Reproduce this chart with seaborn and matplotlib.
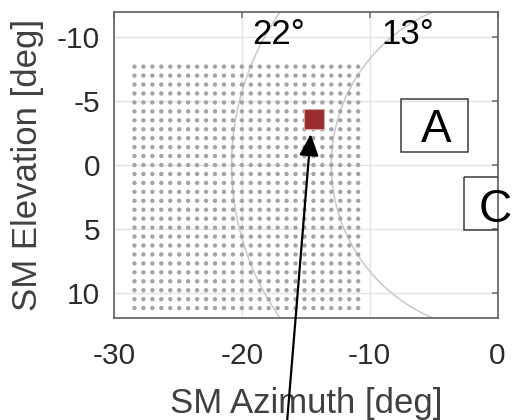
import matplotlib
matplotlib.use("Agg")
import matplotlib.pyplot as plt
from matplotlib.patches import Circle, Rectangle
import numpy as np
import pandas as pd
import seaborn as sns

# scan grid (deg)
grid_az = [-28.4, -27.7, -27.0, -26.3, -25.6, -24.9, -24.2, -23.5, -22.8,
           -22.1, -21.4, -20.7, -20.0, -19.3, -18.6, -17.9, -17.2, -16.5,
           -15.8, -15.1, -14.4, -13.7, -13.0, -12.3, -11.6, -10.9]
grid_el = [-7.7, -7.0, -6.3, -5.6, -4.9, -4.2, -3.5, -2.8, -2.1, -1.4,
           -0.7, 0.0, 0.7, 1.4, 2.1, 2.8, 3.5, 4.2, 4.9, 5.6, 6.3, 7.0,
           7.7, 8.4, 9.1, 9.8, 10.5, 11.2]

target_az = [-14.36]
target_el = [-3.59]

arc_radii = [20.8, 13.0]
arc_labels = ["22°", "13°"]
arc_label_az = [-17.1, -7.05]
arc_label_el = [-9.5, -9.5]

box_labels = ["A", "C"]
box_x0 = [-7.54, -2.59]
box_x1 = [-2.32, 1.5]
box_y0 = [-5.19, 0.94]
box_y1 = [-1.02, 5.05]
box_text_az = [-4.81, -0.19]
box_text_el = [-1.8, 4.48]

x_ticks = [-30, -20, -10, 0]
y_ticks = [-10, -5, 0, 5, 10]

sns.set_theme(style="white")
plt.rcParams["font.family"] = ["Liberation Sans", "DejaVu Sans"]
plt.rcParams["axes.unicode_minus"] = False

fig = plt.figure(figsize=(5.14, 4.2), dpi=100)
ax = fig.add_axes([0.2218, 0.2421, 0.7461, 0.730])

az, el = np.meshgrid(grid_az, grid_el)
dots = pd.DataFrame({"az": az.ravel(), "el": el.ravel()})
sns.scatterplot(data=dots, x="az", y="el", s=10, color="#a4a4a4",
                edgecolor="none", linewidth=0, ax=ax, zorder=3)
sns.scatterplot(x=target_az, y=target_el, marker="s", s=190, color="#9b2d2d",
                edgecolor="#d9a0a0", linewidth=0.8, ax=ax, zorder=4)

for r in arc_radii:
    ax.add_patch(Circle((0, 0), r, fill=False, ec="#c8c8c8", lw=1.1, zorder=2))
for lab, x, y in zip(arc_labels, arc_label_az, arc_label_el):
    ax.text(x, y, lab, ha="center", va="baseline", fontsize=25, color="black", zorder=6)

for lab, x0, x1, y0, y1, tx, ty in zip(box_labels, box_x0, box_x1, box_y0, box_y1,
                                       box_text_az, box_text_el):
    ax.add_patch(Rectangle((x0, y0), x1 - x0, y1 - y0, fill=False,
                           ec="#3a3a3a", lw=1.1, zorder=5))
    ax.text(tx, ty, lab, ha="center", va="baseline", fontsize=33, color="black", zorder=6)

ax.annotate("", xy=(-14.61, -2.42), xycoords="data",
            xytext=(286.4, -10), textcoords="figure pixels",
            arrowprops=dict(arrowstyle="-|>,head_length=0.4,head_width=0.18",
                            mutation_scale=33, lw=1.6, color="black",
                            shrinkA=0, shrinkB=0),
            annotation_clip=False)

ax.set_xlim(-30, 0)
ax.set_ylim(12, -12)
ax.set_xticks(x_ticks)
ax.set_yticks(y_ticks)
ax.grid(True, color="#e2e2e2", lw=1)
ax.set_axisbelow(True)
for sp in ax.spines.values():
    sp.set_color("#5e5e5e")
    sp.set_linewidth(1.2)
ax.tick_params(direction="in", length=4, top=True, right=True, color="#7a7a7a",
               labelsize=21.5, labelcolor="#2b2b2b")
ax.tick_params(axis="x", pad=17)
ax.tick_params(axis="y", pad=10)
ax.set_xlabel("SM Azimuth [deg]", fontsize=25, color="#404040", labelpad=12)
ax.set_ylabel("SM Elevation [deg]", fontsize=25, color="#404040", labelpad=9)

fig.savefig("out.png", dpi=100)
